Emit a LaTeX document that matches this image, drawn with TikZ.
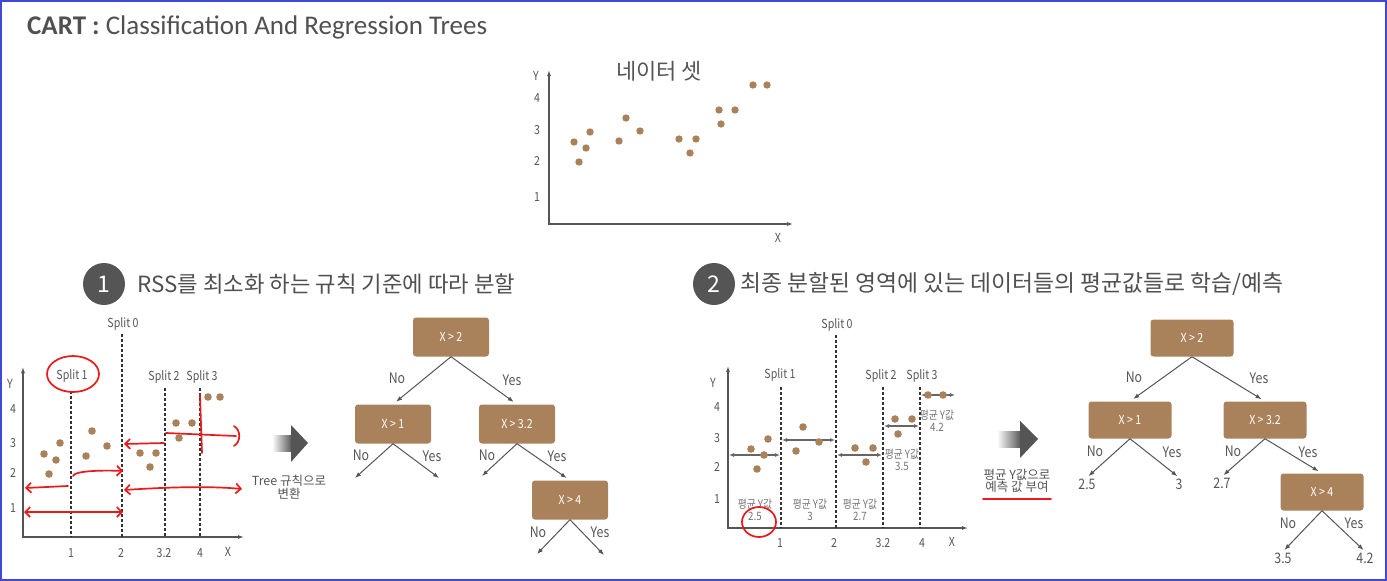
\documentclass[tikz,border=0pt]{standalone}
\usepackage{fontspec}
\setmainfont{Carlito}
\newfontfamily\kr{Noto Sans CJK KR}
\newfontfamily\krc[FakeStretch=0.85]{Noto Sans CJK KR}
\usetikzlibrary{positioning,arrows.meta,shapes.geometric}
\definecolor{brownpt}{RGB}{169,129,90}
\definecolor{darkgr}{RGB}{85,85,85}
\definecolor{textgr}{RGB}{80,80,80}
\definecolor{framebl}{RGB}{65,72,210}
\definecolor{redpen}{RGB}{235,25,25}
\newcommand{\fsz}[1]{\fontsize{#1}{#1}\selectfont}

\begin{document}
\begin{tikzpicture}[x=1pt,y=-1pt,
>={Latex[length=6pt,width=4.5pt]},
decbox/.style={fill=brownpt,rounded corners=3pt,minimum width=76pt,
minimum height=39pt,text=white,font=\krc\fsz{12.5}},
yn/.style={font=\krc\fsz{14.5},text=darkgr,inner sep=1pt},
axlbl/.style={font=\krc\fsz{12.5},text=darkgr,inner sep=1pt},
meanlbl/.style={font=\krc\fsz{11.5},text=black!55,inner sep=1pt,align=center},
axisln/.style={{Latex[length=6pt,width=4pt]}-{Latex[length=6pt,width=4pt]},darkgr,line width=1.1pt},
splitln/.style={dash pattern=on 3pt off 2pt,line width=1.2pt,black!80},
tedge/.style={->,darkgr,line width=1pt,shorten >=4pt},
meanarr/.style={{Latex[length=5pt,width=4pt]}-{Latex[length=5pt,width=4pt]},black!60,line width=1.1pt},
redln/.style={redpen,line width=1.7pt,line cap=round},
headtxt/.style={anchor=west,font=\kr\fsz{22.3},text=textgr}]

\useasboundingbox (0,0) rectangle (1387,581);
\draw[framebl,line width=2pt] (1,1) rectangle (1386,580);

% title
\node[anchor=base west,font=\fsz{27},text=textgr,inner sep=0] (ttl) at (27,34)
{\textbf{CART :} Classification And Regression Trees};

% data set
\node[font=\kr\fsz{22},text=darkgr] (dsn) at (659,71) {네이터 셋};
\coordinate (o0) at (549,224);
\coordinate (y0) at (549,70);
\coordinate (x0) at (793,224);
\draw[axisln] (y0) |- (x0);
\node[axlbl] (ly0) at (536,76) {Y};
\node[axlbl] (lx0) at (778,238) {X};
\foreach \t/\yy in {4/98,3/130,2/161,1/197}
  \node[axlbl] at (537,\yy) {\t};
\foreach \a/\b in {574/142,579/162,586/148,590/132,619/141,626/118,640/131,
679/139,690/153,696/139,719/110,721/124,735/110,753/85,767/85}
  \fill[brownpt] (\a,\b) circle (3.7);

% step 1
\node[circle,fill=darkgr,minimum size=42pt,inner sep=0,text=white,
font=\kr\fsz{23}] (n1) at (104,284) {1};
\node[headtxt] (h1) at (134,284) {RSS를 최소화 하는 규칙 기준에 따라 분할};

\coordinate (o1) at (23,537);
\draw[axisln] (23,367) |- (244,537);
\node[axlbl] at (10,384) {Y};
\foreach \t/\yy in {4/409,3/443,2/473,1/508}
  \node[axlbl] at (13,\yy) {\t};
\foreach \t/\xx in {1/71,2/121,3.2/164,4/200}
  \node[axlbl] at (\xx,553) {\t};
\node[axlbl] at (228,552) {X};
\foreach \a/\b in {71/391,122/334,165/388,200/388}
  \draw[splitln] (\a,\b) -- (\a,537);
\node[axlbl] (s10) at (123,324) {Split 0};
\node[axlbl] (s11) at (72,376) {Split 1};
\node[axlbl] (s12) at (164,377) {Split 2};
\node[axlbl] (s13) at (202,377) {Split 3};
\foreach \a/\b in {44/454,49/474,56/460,60/443,86/456,92/431,107/446,
140/453,150/467,156/453,176/423,179/438,192/423,208/397,220/397}
  \fill[brownpt] (\a,\b) circle (3.8);

% red marks
\draw[redln] (73,374) ellipse (26 and 18);
\draw[redln,-{Straight Barb[length=5pt,width=10pt]}] (68,486) -- (25,488);
\draw[redln,-{Straight Barb[length=5pt,width=10pt]}] (73,476) .. controls (74,471) and (100,470) .. (123,471);
\draw[redln,{Straight Barb[length=5pt,width=10pt]}-{Straight Barb[length=5pt,width=10pt]}] (24,512) -- (123,512);
\draw[redln,-{Straight Barb[length=5pt,width=10pt]}] (164,443) -- (124,444);
\draw[redln] (166,433) -- (236,436);
\draw[redln] (234,426) .. controls (241,430) and (241,442) .. (234,446);
\draw[redln] (200,395) -- (202,453);
\draw[redln,{Straight Barb[length=5pt,width=10pt]}-{Straight Barb[length=5pt,width=10pt]}] (124,490) .. controls (170,487) and (210,486) .. (242,489);

% fat arrow 1
\shade[left color=white,right color=darkgr] (272,435) rectangle (292,451);
\fill[darkgr] (291,425) -- (308,443) -- (291,462) -- cycle;
\node[font=\kr\fsz{12.5},text=darkgr,align=center] (t1) at (289,487) {Tree 규칙으로\\변환};

% tree 1
\node[decbox] (r1) at (451,337) {X > 2};
\node[decbox] (a1) at (393,424) {X > 1};
\node[decbox] (b1) at (517,424) {X > 3.2};
\node[decbox] (c1) at (570,500) {X > 4};
\coordinate (a1n) at (355,478);
\coordinate (a1y) at (439,478);
\coordinate (b1n) at (482,476);
\coordinate (c1n) at (537,554);
\coordinate (c1y) at (604,555);

\draw[tedge] (r1.south) -- (a1.north);
\draw[tedge] (r1.south) -- (b1.north);
\draw[tedge,shorten >=0pt] (a1.south) -- (a1n);
\draw[tedge,shorten >=0pt] (a1.south) -- (a1y);
\draw[tedge,shorten >=0pt] (b1.south) -- (b1n);
\draw[tedge] (b1.south) -- (c1.north);
\draw[tedge,shorten >=0pt] (c1.south) -- (c1n);
\draw[tedge,shorten >=0pt] (c1.south) -- (c1y);

\node[yn] at (397,378) {No};
\node[yn] at (512,380) {Yes};
\node[yn] at (361,455) {No};
\node[yn] at (432,456) {Yes};
\node[yn] at (487,455) {No};
\node[yn] at (557,456) {Yes};
\node[yn] at (538,532) {No};
\node[yn] at (600,532) {Yes};

% step 2
\node[circle,fill=darkgr,minimum size=42pt,inner sep=0,text=white,
font=\kr\fsz{23}] (n2) at (714,284) {2};
\node[headtxt,font=\kr\fsz{22.8}] (h2) at (737,284) {최종 분할된 영역에 있는 데이터들의 평균값들로 학습/예측};

\coordinate (o2) at (728,528);
\draw[axisln] (728,366) |- (968,528);
\node[axlbl] at (713,383) {Y};
\foreach \t/\yy in {4/407,3/438,2/467,1/499}
  \node[axlbl] at (717,\yy) {\t};
\foreach \t/\xx in {1/780,2/834,3.2/883,4/922}
  \node[axlbl] at (\xx,543) {\t};
\node[axlbl] at (952,542) {X};
\foreach \a/\b in {781/387,836/335,883/387,920/387}
  \draw[splitln] (\a,\b) -- (\a,528);
\node[axlbl] (s20) at (837,325) {Split 0};
\node[axlbl] (s21) at (780,375) {Split 1};
\node[axlbl] (s22) at (881,376) {Split 2};
\node[axlbl] (s23) at (922,376) {Split 3};

\draw[meanarr] (729,455) -- (780,455);
\draw[meanarr] (782,440) -- (835,440);
\draw[meanarr] (837,455) -- (882,455);
\draw[meanarr] (884,426) -- (919,426);
\draw[meanarr] (921,395) -- (955,395);
\foreach \a/\b in {751/449,757/469,764/455,768/439,796/451,803/427,819/442,
855/448,866/462,873/448,895/419,898/434,912/419,928/395,943/395}
  \fill[brownpt] (\a,\b) circle (3.8);

\node[meanlbl] (m1) at (755,510) {평균 Y값\\2.5};
\node[meanlbl] (m2) at (810,510) {평균 Y값\\3};
\node[meanlbl] (m3) at (860,510) {평균 Y값\\2.7};
\node[meanlbl] (m4) at (902,460) {평균 Y값\\3.5};
\node[meanlbl] (m5) at (937,421) {평균 Y값\\4.2};
\draw[redln] (759,522) ellipse (17 and 15);

% fat arrow 2
\shade[left color=white,right color=darkgr] (997,431) rectangle (1021,447);
\fill[darkgr] (1020,421) -- (1038,439) -- (1020,458) -- cycle;
\node[font=\kr\fsz{12.5},text=darkgr,align=center] (t2) at (1017,481) {평균 Y값으로\\예측 값 부여};
\draw[redln] (983,499) -- (1051,499);

% tree 2
\tikzset{decbox/.append style={minimum width=83pt,minimum height=37pt}}
\node[decbox] (r2) at (1192,338) {X > 2};
\node[decbox] (a2) at (1130,420) {X > 1};
\node[decbox] (b2) at (1265,420) {X > 3.2};
\node[decbox] (c2) at (1322,492) {X > 4};
\node[yn] (l25) at (1087,484) {2.5};
\node[yn] (l3) at (1179,484) {3};
\node[yn] (l27) at (1222,483) {2.7};
\node[yn] (l35) at (1283,558) {3.5};
\node[yn] (l42) at (1365,558) {4.2};

\draw[tedge] (r2.south) -- (a2.north);
\draw[tedge] (r2.south) -- (b2.north);
\draw[tedge,shorten >=2pt] (a2.south) -- (l25.north);
\draw[tedge,shorten >=2pt] (a2.south) -- (l3.north);
\draw[tedge,shorten >=2pt] (b2.south) -- (l27.north);
\draw[tedge] (b2.south) -- (c2.north);
\draw[tedge,shorten >=2pt] (c2.south) -- (l35.north);
\draw[tedge,shorten >=2pt] (c2.south) -- (l42.north);

\node[yn] at (1134,377) {No};
\node[yn] at (1259,378) {Yes};
\node[yn] at (1095,451) {No};
\node[yn] at (1172,452) {Yes};
\node[yn] at (1233,451) {No};
\node[yn] at (1308,452) {Yes};
\node[yn] at (1288,523) {No};
\node[yn] at (1354,523) {Yes};

\end{tikzpicture}
\end{document}
